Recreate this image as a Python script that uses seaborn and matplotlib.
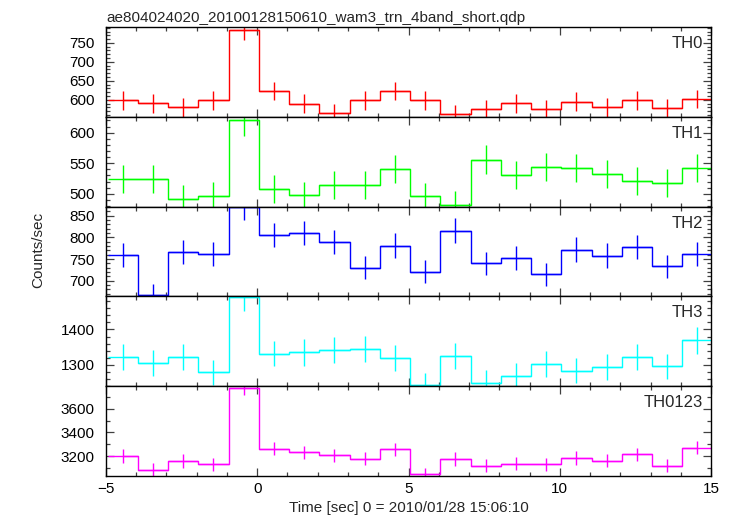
import numpy as np
import matplotlib
matplotlib.use("Agg")
import matplotlib.pyplot as plt
from matplotlib.ticker import MultipleLocator
import seaborn as sns

# bin centres (sec), 1 s bins
time = [-4.45, -3.45, -2.45, -1.45, -0.45, 0.55, 1.55, 2.55, 3.55, 4.55,
        5.55, 6.55, 7.55, 8.55, 9.55, 10.55, 11.55, 12.55, 13.55, 14.55]

th0 = [599, 591, 580, 599, 785, 623, 589, 566, 599, 623,
       599, 562, 576, 591, 575, 595, 580, 599, 578, 602]
th0_err = [25, 25, 25, 25, 28, 25, 25, 24, 25, 25,
           25, 24, 24, 25, 24, 25, 25, 25, 24, 25]

th1 = [524, 524, 492, 497, 620, 508, 498, 514, 514, 540,
       496, 482, 556, 530, 544, 542, 533, 521, 517, 542]
th1_err = [23, 23, 22, 22, 25, 23, 22, 23, 23, 23,
           22, 22, 24, 23, 23, 23, 23, 23, 23, 23]

th2 = [759, 667, 766, 761, 869, 805, 810, 789, 730, 781,
       721, 815, 740, 753, 715, 772, 758, 778, 733, 762]
th2_err = [28, 26, 28, 28, 29, 28, 28, 28, 27, 28,
           27, 29, 27, 27, 27, 28, 28, 28, 27, 28]

th3 = [1322, 1305, 1322, 1279, 1491, 1332, 1335, 1341, 1344, 1320,
       1242, 1325, 1250, 1270, 1302, 1284, 1294, 1322, 1296, 1369]
th3_err = [36, 36, 36, 36, 39, 36, 37, 37, 37, 36,
           35, 36, 35, 36, 36, 36, 36, 36, 36, 37]

th0123 = [3200, 3084, 3157, 3129, 3779, 3262, 3231, 3206, 3177, 3257,
          3047, 3174, 3118, 3135, 3129, 3183, 3160, 3214, 3118, 3271]
th0123_err = [57, 56, 56, 56, 61, 57, 57, 57, 56, 57,
              55, 56, 56, 56, 56, 56, 56, 57, 56, 57]

names = ["TH0", "TH1", "TH2", "TH3", "TH0123"]
colors = ["#ff0000", "#00ff00", "#0000ff", "#00ffff", "#ff00ff"]
ylims = [(555, 792), (479, 626), (664, 871), (1240, 1493), (3030, 3793)]
major = [50, 50, 50, 100, 200]
minor = [10, 10, 10, 20, 100]

sns.set_style("ticks")
plt.rcParams["font.family"] = ["Liberation Sans", "DejaVu Sans"]
plt.rcParams["axes.linewidth"] = 1.0

fig = plt.figure(figsize=(7.33, 5.16), dpi=100)
left, right, top, bottom = 0.1446, 0.970, 0.9477, 0.0775
h = (top - bottom) / 5

series = [(th0, th0_err), (th1, th1_err), (th2, th2_err), (th3, th3_err), (th0123, th0123_err)]
for i, (vals, errs) in enumerate(series):
    ax = fig.add_axes([left, top - (i + 1) * h, right - left, h])
    sns.lineplot(x=time, y=vals, drawstyle="steps-mid", color=colors[i], lw=1, ax=ax)
    ax.errorbar(time, vals, xerr=0.5, yerr=errs, fmt="none", ecolor=colors[i],
                elinewidth=1, capsize=0)
    ax.set_xlim(-5, 15)
    ax.set_ylim(*ylims[i])
    ax.xaxis.set_major_locator(MultipleLocator(5))
    ax.xaxis.set_minor_locator(MultipleLocator(1))
    ax.yaxis.set_major_locator(MultipleLocator(major[i]))
    ax.yaxis.set_minor_locator(MultipleLocator(minor[i]))
    ax.tick_params(which="both", direction="in", top=True, right=True,
                   color="#404040", width=0.9, labelsize=11, labelcolor="black")
    ax.tick_params(which="major", length=6)
    ax.tick_params(which="minor", length=3)
    ax.tick_params(axis="y", pad=8)
    for s in ax.spines.values():
        s.set_visible(True)
        s.set_color("black")
    ax.text(0.987, 0.9, names[i], transform=ax.transAxes, ha="right", va="top", fontsize=12)
    if i < 4:
        ax.tick_params(axis="x", labelbottom=False)
    else:
        ax.set_xlabel("Time [sec] 0 = 2010/01/28 15:06:10", fontsize=11, labelpad=4)
        ax.tick_params(axis="x", pad=4)

fig.text(left + 0.001, 1 - 21.7 / 516, "ae804024020_20100128150610_wam3_trn_4band_short.qdp",
         ha="left", va="baseline", fontsize=11)
fig.text(0.052, 0.515, "Counts/sec", rotation=90, ha="center", va="center", fontsize=11)

fig.savefig("out.png", dpi=100)
